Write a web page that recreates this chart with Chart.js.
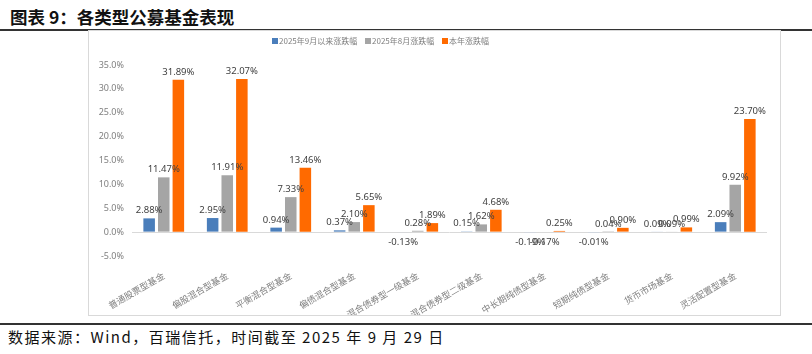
<!DOCTYPE html>
<html>
<head>
<meta charset="utf-8">
<script src="https://cdn.jsdelivr.net/npm/chart.js@4"></script>
<style>
  body { margin: 0; width: 812px; height: 354px; background: #fff; position: relative; overflow: hidden;
         font-family: "Noto Sans CJK SC", "Noto Sans", sans-serif; }
  #title { position: absolute; left: 10px; top: 4px; font-size: 17.5px; font-weight: bold; color: #111; letter-spacing: 0px; line-height: 26px; }
  .rule { position: absolute; left: 0; width: 812px; height: 2px; background: #333; }
  #box { position: absolute; left: 88px; top: 30px; width: 691px; height: 284px; border: 1px solid #d9d9d9; }
  #legend { position: absolute; left: 272px; top: 34px; font-size: 8px; color: #7f7f7f; white-space: nowrap; line-height: 13px; }
  #legend span.sw { display: inline-block; width: 6px; height: 6px; margin-right: 1px; vertical-align: 0px; }
  #legend span.it { margin-right: 6px; }
  #source { position: absolute; left: 8px; top: 326px; font-size: 15px; color: #111; line-height: 22px; letter-spacing: 1.5px; }
  #wrap { position: absolute; left: 89px; top: 31px; width: 691px; height: 284px; }
</style>
</head>
<body>
<div id="title">图表 9：各类型公募基金表现</div>
<div class="rule" style="top:29px"></div>
<div id="box"></div>
<div id="wrap"><canvas id="myChart"></canvas></div>
<div id="legend">
  <span class="it"><span class="sw" style="background:#4a7ebb"></span>2025年9月以来涨跌幅</span>
  <span class="it"><span class="sw" style="background:#a5a5a5"></span>2025年8月涨跌幅</span>
  <span class="it"><span class="sw" style="background:#ff6a00"></span>本年涨跌幅</span>
</div>
<div class="rule" style="top:323px"></div>
<div id="source">数据来源：Wind，百瑞信托，时间截至 2025 年 9 月 29 日</div>
<script>
const categories = ["普通股票型基金", "偏股混合型基金", "平衡混合型基金", "偏债混合型基金", "混合债券型一级基金",
  "混合债券型二级基金", "中长期纯债型基金", "短期纯债型基金", "货币市场基金", "灵活配置型基金"];
const sepValues = [2.88, 2.95, 0.94, 0.37, -0.13, 0.15, -0.19, -0.01, 0.09, 2.09];
const augValues = [11.47, 11.91, 7.33, 2.10, 0.28, 1.62, -0.17, 0.04, 0.09, 9.92];
const ytdValues = [31.89, 32.07, 13.46, 5.65, 1.89, 4.68, 0.25, 0.90, 0.99, 23.70];
const seriesNames = ["2025年9月以来涨跌幅", "2025年8月涨跌幅", "本年涨跌幅"];

const colors = ['#4a7ebb', '#a5a5a5', '#ff6a00'];
const paleColors = ['#c8d5e6', '#dcdcdc', '#ffc8a0'];

function barColor(i) {
  return ctx => (ctx.raw < 0 ? paleColors[i] : colors[i]);
}

// value labels above / below each bar
const barLabels = {
  id: 'barLabels',
  afterDatasetsDraw(chart) {
    const ctx = chart.ctx;
    ctx.save();
    ctx.font = '9.5px "Noto Sans", sans-serif';
    ctx.fillStyle = '#404040';
    ctx.textAlign = 'center';
    chart.data.datasets.forEach((ds, di) => {
      const meta = chart.getDatasetMeta(di);
      meta.data.forEach((bar, i) => {
        const v = ds.data[i];
        const txt = v.toFixed(2) + '%';
        if (v >= 0) {
          ctx.textBaseline = 'bottom';
          ctx.fillText(txt, bar.x, bar.y - 3);
        } else {
          ctx.textBaseline = 'top';
          ctx.fillText(txt, bar.x, Math.max(bar.y, bar.base) + 5);
        }
      });
    });
    ctx.restore();
  }
};

const data = {
  labels: categories,
  datasets: [
    { label: seriesNames[0], data: sepValues, backgroundColor: barColor(0) },
    { label: seriesNames[1], data: augValues, backgroundColor: barColor(1) },
    { label: seriesNames[2], data: ytdValues, backgroundColor: barColor(2) }
  ]
};

const config = {
  type: 'bar',
  data: data,
  plugins: [barLabels],
  options: {
    responsive: true,
    maintainAspectRatio: false,
    animation: false,
    categoryPercentage: 0.69,
    barPercentage: 0.79,
    layout: { padding: { left: 0, right: 13, top: 34, bottom: 0 } },
    plugins: {
      legend: { display: false },
      tooltip: { enabled: false }
    },
    scales: {
      x: {
        grid: { display: false },
        border: { display: false },
        ticks: {
          autoSkip: false,
          maxRotation: 30,
          minRotation: 30,
          padding: 6,
          color: '#808080',
          font: { family: '"Noto Sans CJK SC"', size: 9 }
        },
        afterFit: axis => { axis.height = 59; }
      },
      y: {
        min: -5,
        max: 35,
        border: { display: false },
        grid: {
          drawTicks: false,
          color: ctx => (ctx.tick && ctx.tick.value === 0 ? '#d9d9d9' : 'rgba(0,0,0,0)'),
          lineWidth: 1
        },
        ticks: {
          stepSize: 5,
          padding: 8,
          autoSkip: false,
          color: '#7f7f7f',
          font: { family: '"Noto Sans"', size: 9 },
          callback: v => v.toFixed(1) + '%'
        },
        afterFit: axis => { axis.width = 43; }
      }
    }
  }
};

const myChart = new Chart(document.getElementById('myChart'), config);
</script>
</body>
</html>
